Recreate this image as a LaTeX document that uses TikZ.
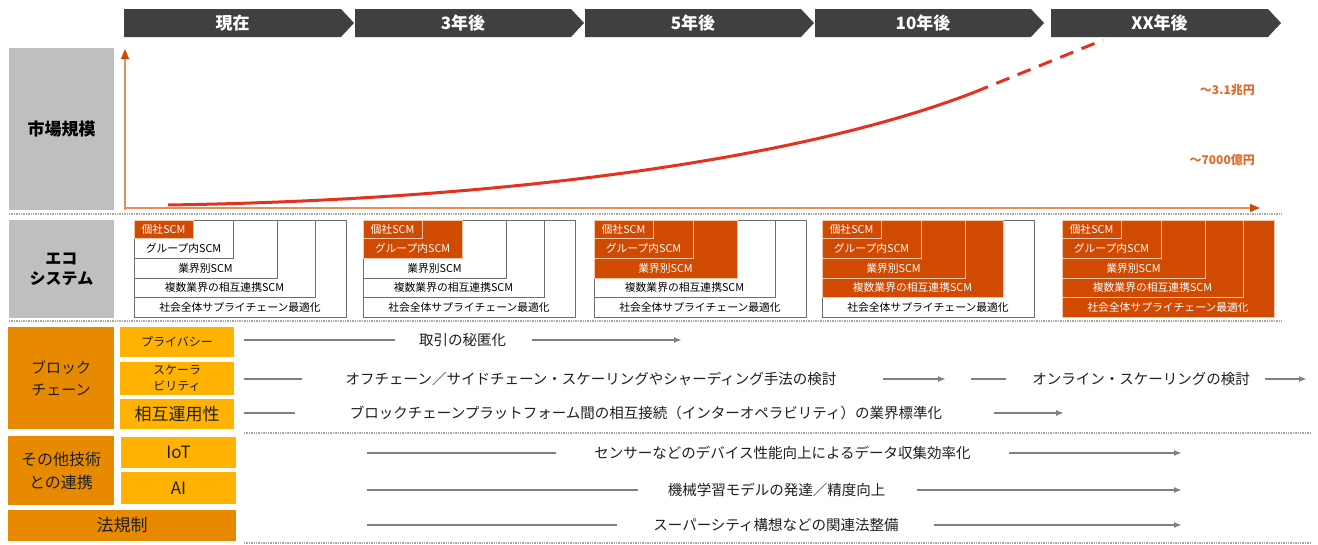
\documentclass[tikz,border=0pt]{standalone}
\usepackage{fontspec}
\setmainfont{Noto Sans CJK JP}
\usetikzlibrary{arrows.meta}
\definecolor{chev}{HTML}{404040}
\definecolor{eco}{HTML}{D04A02}
\definecolor{ecoline}{HTML}{F6C7AA}
\definecolor{emptyline}{HTML}{6E6E6E}
\definecolor{boxdark}{HTML}{E88A00}
\definecolor{boxlight}{HTML}{FFB300}
\definecolor{labgrey}{HTML}{BFBFBF}
\definecolor{axiscol}{HTML}{EC8C5A}
\definecolor{curvecol}{HTML}{E4321E}
\definecolor{valtxt}{HTML}{DF6A2A}
\definecolor{rowline}{HTML}{808080}
\definecolor{sepcol}{HTML}{A6A6A6}
\definecolor{txt}{HTML}{1F1F1F}

\newcommand{\ecograph}[3]{%
  \foreach \w/\b/\i in {212/317/5,181/297/4,143/278/3,99/258/2,59/238/1}{%
    \ifnum\i>#3\relax
      \draw[ecoempty] (#2,220) rectangle ({#2+\w},\b);
    \else
      \draw[ecofull] (#2,220) rectangle ({#2+\w},\b);
    \fi
  }%
  \foreach \w/\t/\b/\i/\s in {59/220/238/1/個社SCM,99/238/258/2/グループ内SCM,143/258/278/3/業界別SCM,181/278/297/4/複数業界の相互連携SCM,212/297/317/5/社会全体サプライチェーン最適化}{%
    \ifnum\i>#3\relax \def\tc{black}\else\def\tc{white}\fi
    \node[ecotxt, text=\tc] (#1-\i) at ({#2+\w/2},{(\t+\b)/2}) {\s};
  }%
}

\begin{document}
\begin{tikzpicture}[x=1pt,y=-1pt,
  headtxt/.style={text=white, font=\bfseries\fontsize{17}{19}\selectfont, inner sep=0pt},
  ecoempty/.style={draw=emptyline, fill=white, line width=0.8pt},
  ecofull/.style={draw=ecoline, fill=eco, line width=0.8pt},
  ecotxt/.style={font=\fontsize{10.8}{12}\selectfont, inner sep=0pt},
  labbox/.style={draw=none, inner sep=0pt, align=center, text=txt},
  rowtxt/.style={font=\fontsize{14.5}{16}\selectfont, text=txt, inner sep=0pt},
  gline/.style={draw=rowline, line width=1.8pt},
  garrow/.style={draw=rowline, line width=1.8pt, -{Latex[length=8pt,width=6pt]}},
  sepline/.style={draw=sepcol, line width=1.4pt, dash pattern=on 1.4pt off 1pt},
  axisline/.style={draw=axiscol, line width=1.5pt, -{Triangle[length=10pt,width=8pt,color=eco]}},
  curveline/.style={draw=curvecol, line width=3pt},
  valstyle/.style={text=valtxt, font=\bfseries\fontsize{12}{14}\selectfont, inner sep=0pt, anchor=east}
]
\useasboundingbox (0,0) rectangle (1318,544);
\fill[white] (0,0) rectangle (1318,544);

% header chevrons
\foreach \x/\e/\n/\t in {124/341/c1/現在, 355/571/c2/3年後, 585/801/c3/5年後, 815/1031/c4/10年後, 1051/1268/c5/XX年後}{%
  \fill[chev] (\x,9) -- (\e,9) -- ({\e+13},23) -- (\e,37) -- (\x,37) -- cycle;
  \node[headtxt] (\n) at ({(\x+\e)/2},23) {\t};
}

% left label boxes
\node[labbox, fill=labgrey, minimum width=105pt, minimum height=162pt, text=black,
      font=\bfseries\fontsize{17}{20}\selectfont] (mkt) at (61.5,129) {市場規模};
\node[labbox, fill=labgrey, minimum width=105pt, minimum height=98pt, text=black,
      font=\bfseries\fontsize{16}{20}\selectfont] (ecolab) at (61.5,269) {エコ\\システム};
\node[labbox, fill=boxdark, minimum width=106pt, minimum height=102pt,
      font=\fontsize{15}{22}\selectfont] (bc) at (61,378) {ブロック\\チェーン};
\node[labbox, fill=boxlight, minimum width=114pt, minimum height=30pt,
      font=\fontsize{12}{14}\selectfont] (priv) at (177,342) {プライバシー};
\node[labbox, fill=boxlight, minimum width=114pt, minimum height=33pt,
      font=\fontsize{12}{16}\selectfont] (scal) at (177,378.5) {スケーラ\\ビリティ};
\node[labbox, fill=boxlight, minimum width=114pt, minimum height=30pt,
      font=\fontsize{17}{20}\selectfont] (inter) at (177,414) {相互運用性};
\node[labbox, fill=boxdark, minimum width=106pt, minimum height=69pt,
      font=\fontsize{16}{23}\selectfont] (other) at (61,470.5) {その他技術\\との連携};
\node[labbox, fill=boxlight, minimum width=115pt, minimum height=31pt,
      font=\fontsize{17}{20}\selectfont] (iot) at (178.5,452.5) {IoT};
\node[labbox, fill=boxlight, minimum width=115pt, minimum height=32pt,
      font=\fontsize{17}{20}\selectfont] (ai) at (178.5,488) {AI};
\node[labbox, fill=boxdark, minimum width=228pt, minimum height=31pt,
      font=\fontsize{17}{20}\selectfont] (law) at (122,525.5) {法規制};

% separators
\draw[sepline] (9,214) -- (1282,214);
\draw[sepline] (9,321) -- (1282,321);
\draw[sepline] (244,433) -- (1310,433);
\draw[sepline] (244,543) -- (1310,543);

% chart
\coordinate (origin) at (125,210);
\coordinate (ytop) at (125,49);
\coordinate (xorig) at (125,208);
\coordinate (xend) at (1260,208);
\draw[axisline] (origin) -- (ytop);
\draw[axisline] (xorig) -- (xend);
\coordinate (cs) at (168,205);
\coordinate (cm) at (975,92);
\coordinate (ce) at (1103,40);
\draw[curveline] (cs) .. controls (500,200) and (800,160) .. (cm);
\draw[curveline, dash pattern=on 14pt off 9pt] (cm) -- (ce);
\node[valstyle] (v1) at (1255,90) {～3.1兆円};
\node[valstyle] (v2) at (1255,160) {～7000億円};

% ecosystem
\ecograph{ea}{134}{1}
\ecograph{eb}{363}{2}
\ecograph{ec}{594}{3}
\ecograph{ed}{822}{4}
\ecograph{ee}{1062}{5}

% rows
\node[rowtxt, minimum width=95pt] (r1) at (462.5,340) {取引の秘匿化};
\coordinate (r1s) at (244,340); \coordinate (r1e) at (682,340);
\draw[gline, shorten >=20pt] (r1s) -- (r1.west);
\draw[garrow, shorten <=22pt] (r1.east) -- (r1e);

\node[rowtxt, minimum width=492pt] (r2a) at (591,379) {オフチェーン／サイドチェーン・スケーリングやシャーディング手法の検討};
\node[rowtxt, minimum width=212pt] (r2b) at (1141,379) {オンライン・スケーリングの検討};
\coordinate (r2s) at (244,379); \coordinate (r2e) at (946,379);
\coordinate (r2m) at (971,379); \coordinate (r2f) at (1307,379);
\draw[gline, shorten >=43pt] (r2s) -- (r2a.west);
\draw[garrow, shorten <=46pt] (r2a.east) -- (r2e);
\draw[gline, shorten >=26pt] (r2m) -- (r2b.west);
\draw[garrow, shorten <=15pt] (r2b.east) -- (r2f);

\node[rowtxt, minimum width=578pt] (r3) at (646,413) {ブロックチェーンプラットフォーム間の相互接続（インターオペラビリティ）の業界標準化};
\coordinate (r3s) at (244,413); \coordinate (r3e) at (1064,413);
\draw[gline, shorten >=55pt] (r3s) -- (r3.west);
\draw[garrow, shorten <=52pt] (r3.east) -- (r3e);

\node[rowtxt, minimum width=399pt] (r4) at (782.5,453) {センサーなどのデバイス性能向上によるデータ収集効率化};
\coordinate (r4s) at (367,453); \coordinate (r4e) at (1182,453);
\draw[gline, shorten >=27pt] (r4s) -- (r4.west);
\draw[garrow, shorten <=27pt] (r4.east) -- (r4e);

\node[rowtxt, minimum width=243pt] (r5) at (776.5,490) {機械学習モデルの発達／精度向上};
\coordinate (r5s) at (367,490); \coordinate (r5e) at (1182,490);
\draw[gline, shorten >=17pt] (r5s) -- (r5.west);
\draw[garrow, shorten <=19pt] (r5.east) -- (r5e);

\node[rowtxt, minimum width=262pt] (r6) at (776,525) {スーパーシティ構想などの関連法整備};
\coordinate (r6s) at (367,525); \coordinate (r6e) at (1182,525);
\draw[gline, shorten >=28pt] (r6s) -- (r6.west);
\draw[garrow, shorten <=27pt] (r6.east) -- (r6e);
\end{tikzpicture}
\end{document}
